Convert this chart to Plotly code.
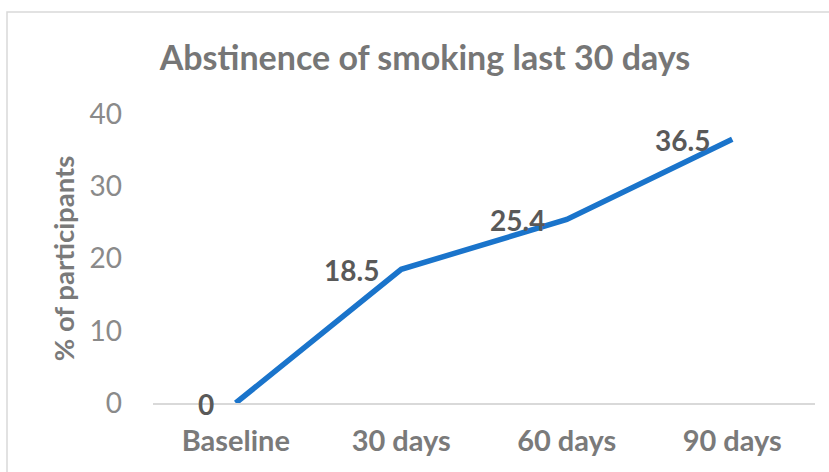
import plotly.graph_objects as go

categories = ["Baseline", "30 days", "60 days", "90 days"]
values = [0, 18.5, 25.4, 36.5]
y_ticks = [0, 10, 20, 30, 40]

W, H = 829, 472
L, R, T, B = 153, 14, 114, 69
pw, ph = W - L - R, H - T - B

fig = go.Figure()
fig.add_trace(go.Scatter(
    x=categories, y=values, mode="lines",
    line=dict(color="#1A74CB", width=5.5),
    cliponaxis=False, hoverinfo="skip",
))

for c, v in zip(categories, values):
    fig.add_annotation(x=c, y=v, xref="x", yref="y", text=f"<b>{v:g}</b>",
                       showarrow=False, xanchor="right", yanchor="middle",
                       xshift=-20, yshift=-1,
                       font=dict(family="Lato", size=28, color="#595959"))

fig.update_layout(
    width=W, height=H,
    margin=dict(l=L, r=R, t=T, b=B),
    paper_bgcolor="white", plot_bgcolor="white",
    showlegend=False,
    title=dict(text="<b>Abstinence of smoking last 30 days</b>",
               x=425 / W, xanchor="center", y=1 - 58 / H, yanchor="middle",
               font=dict(family="Lato", size=34, color="#767676")),
    xaxis=dict(type="category", range=[-0.5, 3.5], showgrid=False,
               showline=True, linecolor="#d9d9d9", linewidth=2,
               ticks="", ticklabelstandoff=11,
               tickfont=dict(family="Lato", size=29, color="#7a7a7a", weight="bold")),
    yaxis=dict(range=[0, 40], tickvals=y_ticks, showgrid=False, zeroline=False,
               showline=False, ticks="", ticklabelstandoff=30,
               tickfont=dict(family="Lato", size=28, color="#8a8a8a"),
               title=dict(text="<b>% of participants</b>", standoff=6,
                          font=dict(family="Lato", size=27.5, color="#7a7a7a"))),
)

fig.add_shape(type="rect", xref="paper", yref="paper",
              x0=(7 - L) / pw, x1=(W + 5 - L) / pw,
              y0=-(B + 10) / ph, y1=1 + (T - 12) / ph,
              line=dict(color="#d9d9d9", width=1.5), fillcolor="rgba(0,0,0,0)", layer="below")

fig.write_html("out.html")
